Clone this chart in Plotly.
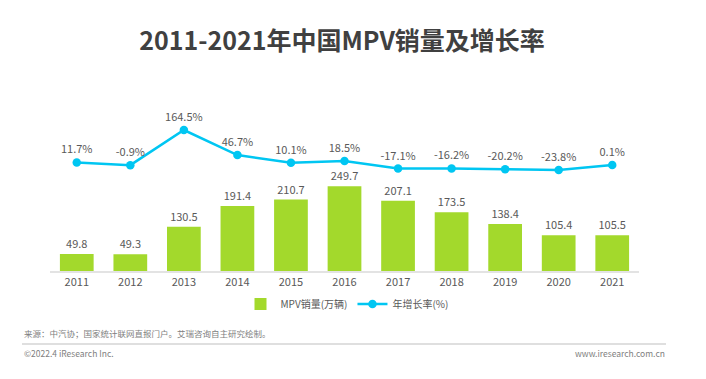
import plotly.graph_objects as go

years = ["2011", "2012", "2013", "2014", "2015", "2016", "2017", "2018", "2019", "2020", "2021"]
sales = [49.8, 49.3, 130.5, 191.4, 210.7, 249.7, 207.1, 173.5, 138.4, 105.4, 105.5]
growth = [11.7, -0.9, 164.5, 46.7, 10.1, 18.5, -17.1, -16.2, -20.2, -23.8, 0.1]
growth_labels = [f"{g}%" for g in growth]

FONT = "Noto Sans CJK SC"
GRAY = "#595959"
W, H = 706, 379
L, R, T, B = 50, 67, 100, 108  # plot area: x 50..639, y 100..271
PW, PH = W - L - R, H - T - B


def px_x(x):
    return (x - L) / PW


def px_y(y):
    return (H - B - y) / PH


fig = go.Figure()
fig.add_trace(go.Bar(
    x=years, y=sales, name="MPV销量(万辆)",
    marker=dict(color="#A3D92C", line=dict(width=0)),
    width=0.63,
    text=[f"{v:.1f}" for v in sales], textposition="outside",
    textfont=dict(size=11, color=GRAY, family=FONT),
    cliponaxis=False,
))
fig.add_trace(go.Scatter(
    x=years, y=growth, name="年增长率(%)", yaxis="y2",
    mode="lines+markers+text",
    line=dict(color="#00C6F2", width=2.5),
    marker=dict(size=8.5, color="#00C6F2"),
    text=growth_labels, textposition="top center",
    textfont=dict(size=11, color=GRAY, family=FONT),
    cliponaxis=False,
))

fig.update_layout(
    width=W, height=H,
    margin=dict(l=L, r=R, t=T, b=B, autoexpand=False),
    paper_bgcolor="white", plot_bgcolor="white",
    font=dict(family=FONT, color=GRAY, size=11),
    title=dict(text="<b>2011-2021年中国MPV销量及增长率</b>", x=342 / W, xanchor="center",
               y=1 - 41 / H, yanchor="middle", xref="container", yref="container",
               font=dict(size=25, color="#404040", family=FONT)),
    xaxis=dict(range=[-0.5, 10.5], showgrid=False, showline=True, linecolor="#E3E3E3",
               linewidth=2, ticks="", tickfont=dict(size=11, color=GRAY), automargin=False),
    yaxis=dict(range=[0, 504.4], visible=False, showgrid=False, zeroline=False,
               automargin=False),
    yaxis2=dict(range=[-499.3, 305.8], overlaying="y", visible=False,
                showgrid=False, zeroline=False, automargin=False),
    legend=dict(orientation="h", x=347 / W, xanchor="center", y=1 - 304 / H,
                yanchor="middle", xref="container", yref="container",
                font=dict(size=10, color=GRAY), itemwidth=30, traceorder="normal"),
    bargap=0.37,
    showlegend=True,
)

FOOT = dict(size=8.5, color="#808080", family=FONT)
fig.add_annotation(text="来源：中汽协；国家统计联网直报门户。艾瑞咨询自主研究绘制。",
                   xref="paper", yref="paper", x=px_x(22), y=px_y(333),
                   xanchor="left", yanchor="middle", showarrow=False, font=FOOT)
fig.add_annotation(text="©2022.4 iResearch Inc.",
                   xref="paper", yref="paper", x=px_x(22), y=px_y(353),
                   xanchor="left", yanchor="middle", showarrow=False, font=FOOT)
fig.add_annotation(text="www.iresearch.com.cn",
                   xref="paper", yref="paper", x=px_x(667), y=px_y(353),
                   xanchor="right", yanchor="middle", showarrow=False, font=FOOT)
fig.add_shape(type="line", xref="paper", yref="paper",
              x0=px_x(22), x1=px_x(666), y0=px_y(344), y1=px_y(344),
              line=dict(color="#BFBFBF", width=1))

fig.write_html("out.html", config={"displayModeBar": False},
               post_script="document.body.style.margin='0';document.body.style.overflow='hidden';")
